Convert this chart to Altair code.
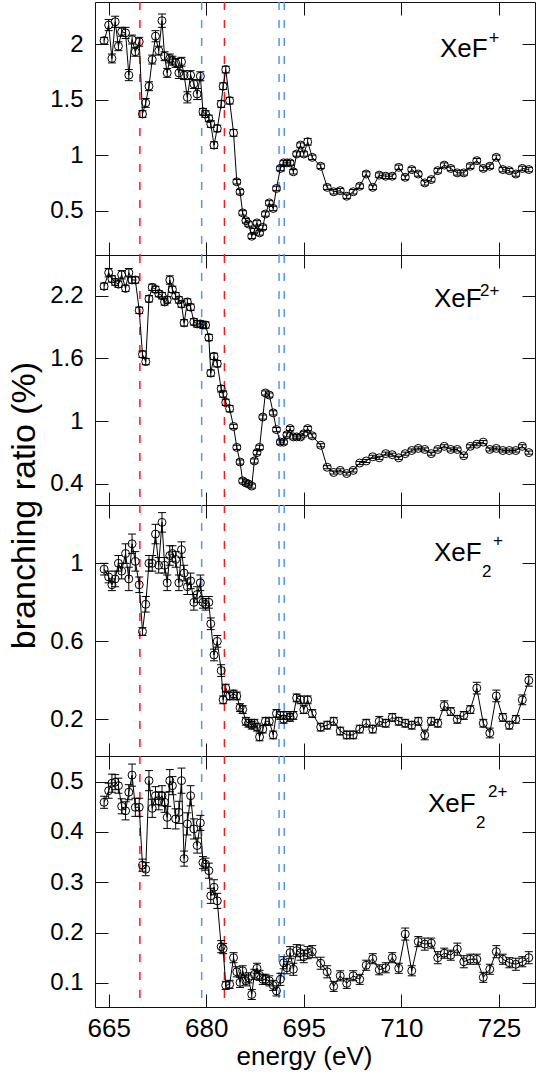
import altair as alt
import pandas as pd

FONT = "Liberation Sans"
RED = "#ff1a1a"
BLUE = "#5b93f0"

# photon energy grid (eV), shared by the four panels
energy = [
    664.3, 665.0, 665.5, 666.0, 666.5, 667.0, 667.6, 668.1, 668.6, 669.1,
    669.7, 670.2, 670.7, 671.2, 671.7, 672.2, 672.7, 673.2, 673.6, 674.0,
    674.4, 674.8, 675.3, 675.8, 676.2, 676.6, 677.1, 677.6, 678.1, 678.6,
    679.1, 679.5, 679.9, 680.4, 680.7, 681.2, 681.7, 682.3, 682.6, 683.0,
    683.6, 684.2, 684.7, 685.2, 685.6, 686.1, 686.5, 687.0, 687.4, 687.8,
    688.2, 688.7, 689.1, 689.7, 690.3, 690.8, 691.4, 691.9, 692.4, 692.9,
    693.4, 693.9, 694.5, 695.0, 695.6, 696.3,
    697.6, 698.6, 699.6, 700.6, 701.6, 702.6, 703.6, 704.6, 705.6, 706.6,
    707.6, 708.6, 709.6, 710.6, 711.6, 712.6, 713.6, 714.6, 715.6, 716.6,
    717.6, 718.6, 719.6, 720.6, 721.6, 722.6, 723.6, 724.6, 725.6, 726.6,
    727.6, 728.6, 729.6,
]

xef_plus = [
    2.03, 2.17, 1.87, 2.20, 1.98, 2.11, 2.10, 1.72, 2.04, 1.93,
    2.02, 1.37, 1.47, 1.62, 1.86, 2.07, 1.94, 2.21, 1.89, 1.74,
    1.87, 1.85, 1.83, 1.74, 1.84, 1.72, 1.52, 1.72, 1.64, 1.55,
    1.71, 1.39, 1.37, 1.33, 1.28, 1.09, 1.24, 1.46, 1.62, 1.77,
    1.49, 1.20, 0.76, 0.67, 0.48, 0.41, 0.38, 0.27, 0.32, 0.39,
    0.30, 0.35, 0.47, 0.57, 0.52, 0.70, 0.88, 0.93, 0.93, 0.93,
    0.85, 1.01, 1.09, 1.01, 1.12, 0.98,
    0.90, 0.71, 0.67, 0.68, 0.63, 0.67, 0.72, 0.83, 0.71, 0.82,
    0.81, 0.81, 0.89, 0.80, 0.87, 0.83, 0.75, 0.78, 0.86, 0.91,
    0.88, 0.84, 0.84, 0.90, 0.95, 0.88, 0.90, 0.98, 0.87, 0.86,
    0.83, 0.88, 0.87,
]
xef_plus_err = [
    0.03, 0.05, 0.04, 0.05, 0.04, 0.04, 0.05, 0.05, 0.04, 0.04,
    0.04, 0.03, 0.04, 0.04, 0.04, 0.05, 0.04, 0.06, 0.04, 0.04,
    0.04, 0.04, 0.04, 0.05, 0.04, 0.04, 0.05, 0.04, 0.04, 0.05,
    0.04, 0.03, 0.03, 0.03, 0.03, 0.03, 0.03, 0.03, 0.03, 0.03,
    0.03, 0.03, 0.02, 0.02, 0.02, 0.02, 0.02, 0.02, 0.02, 0.02,
    0.02, 0.02, 0.02, 0.02, 0.02, 0.02, 0.02, 0.02, 0.02, 0.02,
    0.02, 0.02, 0.02, 0.02, 0.03, 0.02,
    0.02, 0.02, 0.02, 0.02, 0.02, 0.02, 0.02, 0.02, 0.02, 0.02,
    0.02, 0.02, 0.02, 0.02, 0.02, 0.02, 0.02, 0.02, 0.02, 0.02,
    0.02, 0.02, 0.02, 0.02, 0.02, 0.02, 0.02, 0.02, 0.02, 0.02,
    0.02, 0.02, 0.02,
]

xef_2plus = [
    2.29, 2.42, 2.36, 2.33, 2.31, 2.40, 2.27, 2.42, 2.35, 2.35,
    2.06, 1.64, 1.57, 2.17, 2.28, 2.26, 2.22, 2.20, 2.14, 2.16,
    2.35, 2.26, 2.20, 2.16, 2.12, 1.94, 2.14, 2.09, 1.95, 1.93,
    1.93, 1.92, 1.92, 1.80, 1.46, 1.62, 1.55, 1.31, 1.26, 1.18,
    1.12, 0.95, 0.75, 0.61, 0.43, 0.41, 0.40, 0.38, 0.62, 0.70,
    0.75, 1.04, 1.27, 1.25, 1.08, 0.92, 0.80, 0.80, 0.87, 0.93,
    0.85, 0.85, 0.85, 0.88, 0.93, 0.86,
    0.77, 0.56, 0.51, 0.53, 0.50, 0.53, 0.60, 0.62, 0.66, 0.65,
    0.69, 0.68, 0.65, 0.69, 0.72, 0.74, 0.73, 0.69, 0.73, 0.76,
    0.73, 0.73, 0.67, 0.76, 0.78, 0.80, 0.73, 0.74, 0.72, 0.72,
    0.72, 0.76, 0.70,
]
xef_2plus_err = [
    0.03, 0.04, 0.03, 0.03, 0.03, 0.04, 0.03, 0.04, 0.03, 0.03,
    0.03, 0.03, 0.03, 0.03, 0.03, 0.03, 0.03, 0.03, 0.03, 0.03,
    0.04, 0.03, 0.03, 0.03, 0.03, 0.03, 0.03, 0.03, 0.03, 0.03,
    0.03, 0.03, 0.03, 0.03, 0.03, 0.03, 0.03, 0.03, 0.03, 0.03,
    0.03, 0.02, 0.02, 0.02, 0.02, 0.02, 0.02, 0.02, 0.02, 0.02,
    0.02, 0.02, 0.02, 0.02, 0.02, 0.02, 0.02, 0.02, 0.02, 0.02,
    0.02, 0.02, 0.02, 0.02, 0.02, 0.02,
    0.015, 0.015, 0.015, 0.015, 0.015, 0.015, 0.015, 0.015, 0.015, 0.015,
    0.015, 0.015, 0.015, 0.015, 0.015, 0.015, 0.015, 0.015, 0.015, 0.015,
    0.015, 0.015, 0.015, 0.015, 0.015, 0.015, 0.015, 0.015, 0.015, 0.015,
    0.015, 0.015, 0.015,
]

xef2_plus = [
    0.97, 0.93, 0.89, 0.92, 1.00, 0.96, 1.05, 0.92, 1.10, 1.01,
    0.89, 0.65, 0.79, 1.00, 1.00, 1.15, 0.99, 1.21, 0.99, 0.90,
    1.04, 1.05, 1.02, 0.90, 1.07, 0.95, 0.88, 0.91, 0.80, 0.84,
    0.90, 0.80, 0.79, 0.80, 0.69, 0.53, 0.60, 0.45, 0.30, 0.36,
    0.32, 0.33, 0.32, 0.26, 0.25, 0.19, 0.18, 0.17, 0.18, 0.16,
    0.11, 0.15, 0.19, 0.19, 0.12, 0.23, 0.22, 0.20, 0.22, 0.21,
    0.22, 0.31, 0.30, 0.25, 0.30, 0.23,
    0.16, 0.17, 0.19, 0.14, 0.12, 0.12, 0.15, 0.18, 0.15, 0.19,
    0.18, 0.21, 0.19, 0.18, 0.17, 0.19, 0.12, 0.19, 0.18, 0.27,
    0.24, 0.20, 0.22, 0.25, 0.36, 0.18, 0.13, 0.32, 0.21, 0.17,
    0.20, 0.30, 0.40,
]
xef2_plus_err = [
    0.03, 0.03, 0.03, 0.04, 0.04, 0.04, 0.05, 0.06, 0.05, 0.05,
    0.04, 0.02, 0.04, 0.04, 0.04, 0.05, 0.04, 0.05, 0.04, 0.04,
    0.05, 0.04, 0.04, 0.04, 0.04, 0.04, 0.04, 0.04, 0.04, 0.04,
    0.04, 0.03, 0.03, 0.03, 0.03, 0.03, 0.03, 0.03, 0.02, 0.02,
    0.02, 0.02, 0.02, 0.02, 0.02, 0.02, 0.02, 0.02, 0.02, 0.02,
    0.02, 0.02, 0.02, 0.02, 0.02, 0.02, 0.02, 0.02, 0.02, 0.02,
    0.02, 0.02, 0.02, 0.02, 0.02, 0.02,
    0.02, 0.02, 0.02, 0.02, 0.02, 0.02, 0.02, 0.02, 0.02, 0.025,
    0.02, 0.02, 0.02, 0.02, 0.02, 0.02, 0.025, 0.02, 0.02, 0.025,
    0.02, 0.02, 0.02, 0.02, 0.03, 0.02, 0.025, 0.03, 0.02, 0.02,
    0.02, 0.025, 0.03,
]

xef2_2plus = [
    0.459, 0.482, 0.497, 0.499, 0.492, 0.451, 0.442, 0.479, 0.513, 0.449,
    0.449, 0.334, 0.326, 0.502, 0.447, 0.472, 0.462, 0.472, 0.459, 0.429,
    0.502, 0.492, 0.426, 0.439, 0.502, 0.347, 0.416, 0.472, 0.406, 0.373,
    0.418, 0.339, 0.336, 0.323, 0.273, 0.290, 0.263, 0.172, 0.168, 0.095,
    0.097, 0.150, 0.122, 0.101, 0.124, 0.104, 0.110, 0.077, 0.117, 0.129,
    0.115, 0.107, 0.107, 0.104, 0.095, 0.084, 0.107, 0.140, 0.130, 0.160,
    0.127, 0.164, 0.160, 0.152, 0.160, 0.162,
    0.139, 0.122, 0.093, 0.114, 0.099, 0.114, 0.107, 0.135, 0.148, 0.126,
    0.130, 0.150, 0.129, 0.197, 0.124, 0.182, 0.177, 0.179, 0.150, 0.159,
    0.155, 0.167, 0.142, 0.147, 0.147, 0.111, 0.127, 0.162, 0.147, 0.140,
    0.137, 0.142, 0.150,
]
xef2_2plus_err = [
    0.012, 0.015, 0.018, 0.015, 0.015, 0.015, 0.018, 0.015, 0.022, 0.018,
    0.018, 0.012, 0.013, 0.020, 0.018, 0.018, 0.018, 0.020, 0.020, 0.022,
    0.022, 0.018, 0.020, 0.022, 0.025, 0.015, 0.022, 0.020, 0.020, 0.015,
    0.015, 0.012, 0.012, 0.015, 0.015, 0.015, 0.015, 0.012, 0.010, 0.008,
    0.008, 0.010, 0.010, 0.010, 0.010, 0.010, 0.010, 0.010, 0.010, 0.010,
    0.010, 0.010, 0.010, 0.010, 0.010, 0.010, 0.012, 0.012, 0.012, 0.012,
    0.012, 0.012, 0.015, 0.012, 0.012, 0.012,
    0.012, 0.012, 0.010, 0.010, 0.010, 0.010, 0.010, 0.010, 0.010, 0.010,
    0.010, 0.010, 0.010, 0.012, 0.010, 0.010, 0.012, 0.010, 0.012, 0.010,
    0.010, 0.012, 0.012, 0.010, 0.010, 0.010, 0.010, 0.012, 0.010, 0.010,
    0.012, 0.010, 0.012,
]

# vertical reference lines (eV)
red_lines = [669.8, 682.8]
blue_lines = [679.3, 691.2, 692.0]

x_ticks = [665, 680, 695, 710, 725]
X_DOMAIN = [662.9, 730.55]

# panel labels (text pieces)
label_p1 = ["XeF", "+"]
label_p2 = ["XeF", "2+"]
label_p3 = ["XeF", "2", "+"]
label_p4 = ["XeF", "2", "2+"]

vline_df = pd.DataFrame({
    "energy": red_lines + blue_lines,
    "kind": ["red"] * len(red_lines) + ["blue"] * len(blue_lines),
})


def text_layer(txt, x, y, size, align="left"):
    return alt.Chart(pd.DataFrame({"t": [txt]})).mark_text(
        font=FONT, fontSize=size, align=align, baseline="alphabetic", color="black"
    ).encode(text="t:N", x=alt.value(x), y=alt.value(y))


def make_panel(values, errors, ydom, yticks, height, texts, bottom=False, ytitle=False):
    df = pd.DataFrame({"energy": energy, "ratio": values, "err": errors})
    df["lo"] = df["ratio"] - df["err"]
    df["hi"] = df["ratio"] + df["err"]
    base = alt.Chart(df)
    xs = alt.Scale(domain=X_DOMAIN, nice=False, zero=False)
    ys = alt.Scale(domain=ydom, nice=False, zero=False)

    xb_kwargs = dict(orient="bottom", values=x_ticks, offset=-13, tickSize=13,
                     domain=False, grid=False, labels=bottom, labelFontSize=26,
                     labelPadding=8, format="d")
    if bottom:
        xb_kwargs.update(title="energy (eV)", titleFontSize=26, titleX=209,
                         titleY=70, titleAlign="center", titleBaseline="alphabetic")
    else:
        xb_kwargs.update(title="")
    x_bottom = alt.Axis(**xb_kwargs)

    yl_kwargs = dict(orient="left", values=yticks, offset=-13, tickSize=13,
                     domain=False, grid=False, labelFontSize=24, labelPadding=12,
                     format="~g")
    if ytitle:
        yl_kwargs.update(title="branching ratio (%)", titleFontSize=34, titleX=-84,
                         titleY=0, titleAlign="center", titleBaseline="middle")
    else:
        yl_kwargs.update(title="")
    y_left = alt.Axis(**yl_kwargs)

    x_top = alt.Axis(orient="top", values=x_ticks, offset=-13, tickSize=13,
                     domain=False, grid=False, labels=False, title="")
    y_right = alt.Axis(orient="right", values=yticks, offset=-13, tickSize=13,
                       domain=False, grid=False, labels=False, title="")

    X = lambda ax: alt.X("energy:Q", scale=xs, axis=ax)

    vlines = alt.Chart(vline_df).mark_rule(strokeDash=[8, 10], strokeWidth=1.5).encode(
        x=X(None),
        color=alt.Color("kind:N", scale=alt.Scale(domain=["red", "blue"], range=[RED, BLUE]),
                        legend=None),
    )
    line = base.mark_line(color="black", strokeWidth=1).encode(
        x=X(x_bottom), y=alt.Y("ratio:Q", scale=ys, axis=y_left))
    bars = base.mark_rule(color="black", strokeWidth=1).encode(
        x=X(None), y=alt.Y("lo:Q", scale=ys, axis=None), y2="hi:Q")
    cap_lo = base.mark_tick(orient="horizontal", size=8, thickness=1, color="black",
                            opacity=1).encode(x=X(None), y=alt.Y("lo:Q", scale=ys, axis=None))
    cap_hi = base.mark_tick(orient="horizontal", size=8, thickness=1, color="black",
                            opacity=1).encode(x=X(None), y=alt.Y("hi:Q", scale=ys, axis=None))
    pts = base.mark_point(shape="circle", filled=False, size=64, color="black",
                          strokeWidth=1, opacity=1).encode(
        x=X(None), y=alt.Y("ratio:Q", scale=ys, axis=None))
    frame = base.mark_point(opacity=0).encode(
        x=X(x_top), y=alt.Y("ratio:Q", scale=ys, axis=y_right))

    layers = [vlines, line, bars, cap_lo, cap_hi, pts] + texts + [frame]
    return alt.layer(*layers).resolve_axis(x="independent", y="independent").properties(
        width=440, height=height)


p1 = make_panel(xef_plus, xef_plus_err, [0.101, 2.378], [0.5, 1, 1.5, 2], 253,
                [text_layer(label_p1[0], 345, 55, 26),
                 text_layer(label_p1[1], 399, 42, 18, "center")])
p2 = make_panel(xef_2plus, xef_2plus_err, [0.199, 2.589], [0.4, 1, 1.6, 2.2], 250,
                [text_layer(label_p2[0], 339, 52, 26),
                 text_layer(label_p2[1], 385, 41, 17)])
p3 = make_panel(xef2_plus, xef2_plus_err, [0.012, 1.299], [0.2, 0.6, 1], 251,
                [text_layer(label_p3[0], 339, 56, 26),
                 text_layer(label_p3[1], 387, 72, 17),
                 text_layer(label_p3[2], 403, 41, 17, "center")],
                ytitle=True)
p4 = make_panel(xef2_2plus, xef2_2plus_err, [0.052, 0.551], [0.1, 0.2, 0.3, 0.4, 0.5], 251,
                [text_layer(label_p4[0], 333, 56, 26),
                 text_layer(label_p4[1], 381, 72, 17),
                 text_layer(label_p4[2], 393, 41, 17)],
                bottom=True)

chart = alt.vconcat(p1, p2, p3, p4, spacing=0, bounds="flush").properties(
    padding={"left": 6, "top": 0, "right": 0, "bottom": 0}
).configure_view(
    stroke="#111111", strokeWidth=1
).configure_axis(
    labelFont=FONT, titleFont=FONT, labelColor="black", titleColor="black",
    tickColor="#111111", tickWidth=1, titleFontWeight="normal"
)

chart.save("out.html", embed_options={"renderer": "svg", "actions": False})
